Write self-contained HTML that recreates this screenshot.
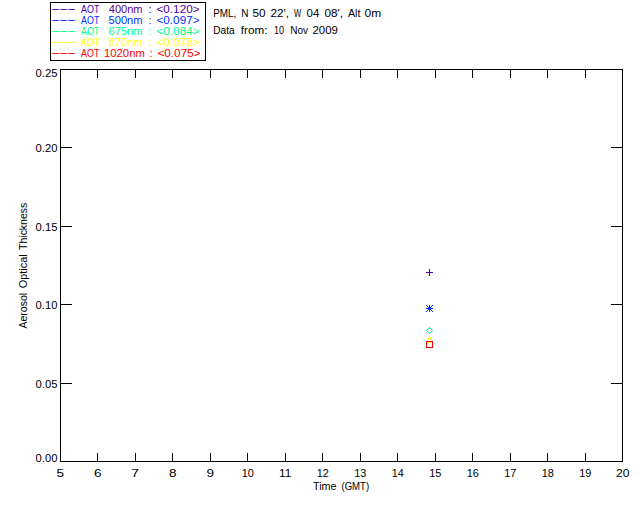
<!DOCTYPE html>
<html lang="en"><head><meta charset="utf-8"><title>Aerosol Optical Thickness</title>
<style>html,body{margin:0;padding:0;background:#fff;overflow:hidden}svg{display:block}text{font-family:"Liberation Sans", sans-serif;font-size:11px;white-space:pre}.l{stroke:#000;stroke-width:1;fill:none;shape-rendering:crispEdges}.m{stroke-width:1;fill:none}</style></head><body>
<svg width="640" height="512" viewBox="0 0 640 512">
<rect x="0" y="0" width="640" height="512" fill="#fff"/>
<rect class="l" x="50.5" y="2.5" width="155" height="58"/>
<text transform="translate(50.9 12) scale(2.5 1)" letter-spacing="-0.46" fill="#5000a0">---</text>
<text transform="translate(50.9 23) scale(2.5 1)" letter-spacing="-0.46" fill="#0030ff">---</text>
<text transform="translate(50.9 34) scale(2.5 1)" letter-spacing="-0.46" fill="#00ff80">---</text>
<text transform="translate(50.9 45) scale(2.5 1)" letter-spacing="-0.46" fill="#ffff00">---</text>
<text transform="translate(50.9 56) scale(2.5 1)" letter-spacing="-0.46" fill="#ff0000">---</text>
<text y="13" fill="#5000a0"><tspan x="81.00" textLength="18.20" lengthAdjust="spacingAndGlyphs">AOT</tspan> <tspan x="108.75" textLength="33.82" lengthAdjust="spacingAndGlyphs">400nm</tspan> <tspan x="148.60" textLength="3.06" lengthAdjust="spacingAndGlyphs">:</tspan> <tspan x="156.47" textLength="43.07" lengthAdjust="spacingAndGlyphs">&lt;0.120&gt;</tspan></text>
<text y="24" fill="#0030ff"><tspan x="81.00" textLength="18.20" lengthAdjust="spacingAndGlyphs">AOT</tspan> <tspan x="108.49" textLength="34.08" lengthAdjust="spacingAndGlyphs">500nm</tspan> <tspan x="148.60" textLength="3.06" lengthAdjust="spacingAndGlyphs">:</tspan> <tspan x="156.47" textLength="43.07" lengthAdjust="spacingAndGlyphs">&lt;0.097&gt;</tspan></text>
<text y="35" fill="#00ff80"><tspan x="81.00" textLength="18.20" lengthAdjust="spacingAndGlyphs">AOT</tspan> <tspan x="108.49" textLength="34.08" lengthAdjust="spacingAndGlyphs">675nm</tspan> <tspan x="148.60" textLength="3.06" lengthAdjust="spacingAndGlyphs">:</tspan> <tspan x="156.47" textLength="43.07" lengthAdjust="spacingAndGlyphs">&lt;0.084&gt;</tspan></text>
<text y="46" fill="#ffff00"><tspan x="81.00" textLength="18.20" lengthAdjust="spacingAndGlyphs">AOT</tspan> <tspan x="108.49" textLength="34.08" lengthAdjust="spacingAndGlyphs">870nm</tspan> <tspan x="148.60" textLength="3.06" lengthAdjust="spacingAndGlyphs">:</tspan> <tspan x="156.47" textLength="43.07" lengthAdjust="spacingAndGlyphs">&lt;0.078&gt;</tspan></text>
<text y="57" fill="#ff0000"><tspan x="81.00" textLength="18.20" lengthAdjust="spacingAndGlyphs">AOT</tspan> <tspan x="104.10" textLength="40.68" lengthAdjust="spacingAndGlyphs">1020nm</tspan> <tspan x="149.60" textLength="3.06" lengthAdjust="spacingAndGlyphs">:</tspan> <tspan x="157.47" textLength="43.07" lengthAdjust="spacingAndGlyphs">&lt;0.075&gt;</tspan></text>
<text y="17" fill="#000"><tspan x="213.21" textLength="23.13" lengthAdjust="spacingAndGlyphs">PML,</tspan> <tspan x="241.20" textLength="7.27" lengthAdjust="spacingAndGlyphs">N</tspan> <tspan x="252.47" textLength="13.07" lengthAdjust="spacingAndGlyphs">50</tspan> <tspan x="270.46" textLength="18.64" lengthAdjust="spacingAndGlyphs">22',</tspan> <tspan x="293.91" textLength="7.18" lengthAdjust="spacingAndGlyphs">W</tspan> <tspan x="306.61" textLength="12.78" lengthAdjust="spacingAndGlyphs">04</tspan> <tspan x="324.60" textLength="18.49" lengthAdjust="spacingAndGlyphs">08',</tspan> <tspan x="348.00" textLength="12.39" lengthAdjust="spacingAndGlyphs">Alt</tspan> <tspan x="364.59" textLength="16.55" lengthAdjust="spacingAndGlyphs">0m</tspan></text>
<text y="34" fill="#000"><tspan x="213.19" textLength="21.41" lengthAdjust="spacingAndGlyphs">Data</tspan> <tspan x="240.87" textLength="26.66" lengthAdjust="spacingAndGlyphs">from:</tspan> <tspan x="273.88" textLength="10.14" lengthAdjust="spacingAndGlyphs">10</tspan> <tspan x="290.20" textLength="17.86" lengthAdjust="spacingAndGlyphs">Nov</tspan> <tspan x="312.48" textLength="25.45" lengthAdjust="spacingAndGlyphs">2009</tspan></text>
<text y="77" fill="#000"><tspan x="35.62" textLength="21.94" lengthAdjust="spacingAndGlyphs">0.25</tspan></text>
<text y="152" fill="#000"><tspan x="35.62" textLength="21.81" lengthAdjust="spacingAndGlyphs">0.20</tspan></text>
<text y="231" fill="#000"><tspan x="35.62" textLength="21.94" lengthAdjust="spacingAndGlyphs">0.15</tspan></text>
<text y="309" fill="#000"><tspan x="35.62" textLength="21.81" lengthAdjust="spacingAndGlyphs">0.10</tspan></text>
<text y="388" fill="#000"><tspan x="35.62" textLength="21.94" lengthAdjust="spacingAndGlyphs">0.05</tspan></text>
<text y="462" fill="#000"><tspan x="35.62" textLength="21.81" lengthAdjust="spacingAndGlyphs">0.00</tspan></text>
<text y="477" fill="#000"><tspan x="56.49" textLength="7.53" lengthAdjust="spacingAndGlyphs">5</tspan></text>
<text y="477" fill="#000"><tspan x="93.99" textLength="7.53" lengthAdjust="spacingAndGlyphs">6</tspan></text>
<text y="477" fill="#000"><tspan x="131.31" textLength="7.72" lengthAdjust="spacingAndGlyphs">7</tspan></text>
<text y="477" fill="#000"><tspan x="168.99" textLength="7.53" lengthAdjust="spacingAndGlyphs">8</tspan></text>
<text y="477" fill="#000"><tspan x="206.49" textLength="7.53" lengthAdjust="spacingAndGlyphs">9</tspan></text>
<text y="477" fill="#000"><tspan x="241.63" textLength="12.17" lengthAdjust="spacingAndGlyphs">10</tspan></text>
<text y="477" fill="#000"><tspan x="279.06" textLength="12.34" lengthAdjust="spacingAndGlyphs">11</tspan></text>
<text y="477" fill="#000"><tspan x="316.63" textLength="12.17" lengthAdjust="spacingAndGlyphs">12</tspan></text>
<text y="477" fill="#000"><tspan x="354.13" textLength="12.17" lengthAdjust="spacingAndGlyphs">13</tspan></text>
<text y="477" fill="#000"><tspan x="391.64" textLength="12.03" lengthAdjust="spacingAndGlyphs">14</tspan></text>
<text y="477" fill="#000"><tspan x="429.13" textLength="12.17" lengthAdjust="spacingAndGlyphs">15</tspan></text>
<text y="477" fill="#000"><tspan x="466.63" textLength="12.17" lengthAdjust="spacingAndGlyphs">16</tspan></text>
<text y="477" fill="#000"><tspan x="504.13" textLength="12.17" lengthAdjust="spacingAndGlyphs">17</tspan></text>
<text y="477" fill="#000"><tspan x="541.63" textLength="12.17" lengthAdjust="spacingAndGlyphs">18</tspan></text>
<text y="477" fill="#000"><tspan x="579.13" textLength="12.17" lengthAdjust="spacingAndGlyphs">19</tspan></text>
<text y="477" fill="#000"><tspan x="615.95" textLength="13.50" lengthAdjust="spacingAndGlyphs">20</tspan></text>
<text y="490" fill="#000"><tspan x="312.95" textLength="23.58" lengthAdjust="spacingAndGlyphs">Time</tspan> <tspan x="341.45" textLength="27.70" lengthAdjust="spacingAndGlyphs">(GMT)</tspan></text>
<text transform="translate(27 328.6) rotate(-90)" y="0"><tspan x="0.00" textLength="35.76" lengthAdjust="spacingAndGlyphs">Aerosol</tspan> <tspan x="40.40" textLength="33.94" lengthAdjust="spacingAndGlyphs">Optical</tspan> <tspan x="78.66" textLength="47.23" lengthAdjust="spacingAndGlyphs">Thickness</tspan></text>
<rect class="l" x="60.5" y="69.5" width="562" height="392"/>
<path class="l" d="M97.5 69v9M97.5 462v-9M135.5 69v9M135.5 462v-9M172.5 69v9M172.5 462v-9M210.5 69v9M210.5 462v-9M247.5 69v9M247.5 462v-9M285.5 69v9M285.5 462v-9M322.5 69v9M322.5 462v-9M360.5 69v9M360.5 462v-9M397.5 69v9M397.5 462v-9M435.5 69v9M435.5 462v-9M472.5 69v9M472.5 462v-9M510.5 69v9M510.5 462v-9M547.5 69v9M547.5 462v-9M585.5 69v9M585.5 462v-9M60 383.5h12M623 383.5h-12M60 304.5h12M623 304.5h-12M60 226.5h12M623 226.5h-12M60 147.5h12M623 147.5h-12"/>
<g class="m" shape-rendering="crispEdges">
<path stroke="#5000a0" d="M426 272.5h7M429.5 269v7"/>
</g><g class="m" shape-rendering="crispEdges">
<path stroke="#0030ff" d="M426 308.5h7M429.5 305v7M426.3 305.3l6.4 6.4M432.7 305.3l-6.4 6.4"/>
<path stroke="#00ff80" d="M429.5 327.5l3 3l-3 3l-3-3z"/>
<path fill="#ffff00" stroke="none" d="M429 336h1v1h-1zM429 337h1v1h-1zM430 337h1v1h-1zM428 338h1v1h-1zM430 338h1v1h-1zM428 339h1v1h-1zM431 339h1v1h-1zM427 340h1v1h-1zM431 340h1v1h-1zM427 341h1v1h-1zM432 341h1v1h-1zM426 342h7v1h-7z"/>
</g><g class="m" shape-rendering="crispEdges">
<rect stroke="#ff0000" x="426.5" y="341.5" width="6" height="6"/>
</g>
</svg></body></html>
